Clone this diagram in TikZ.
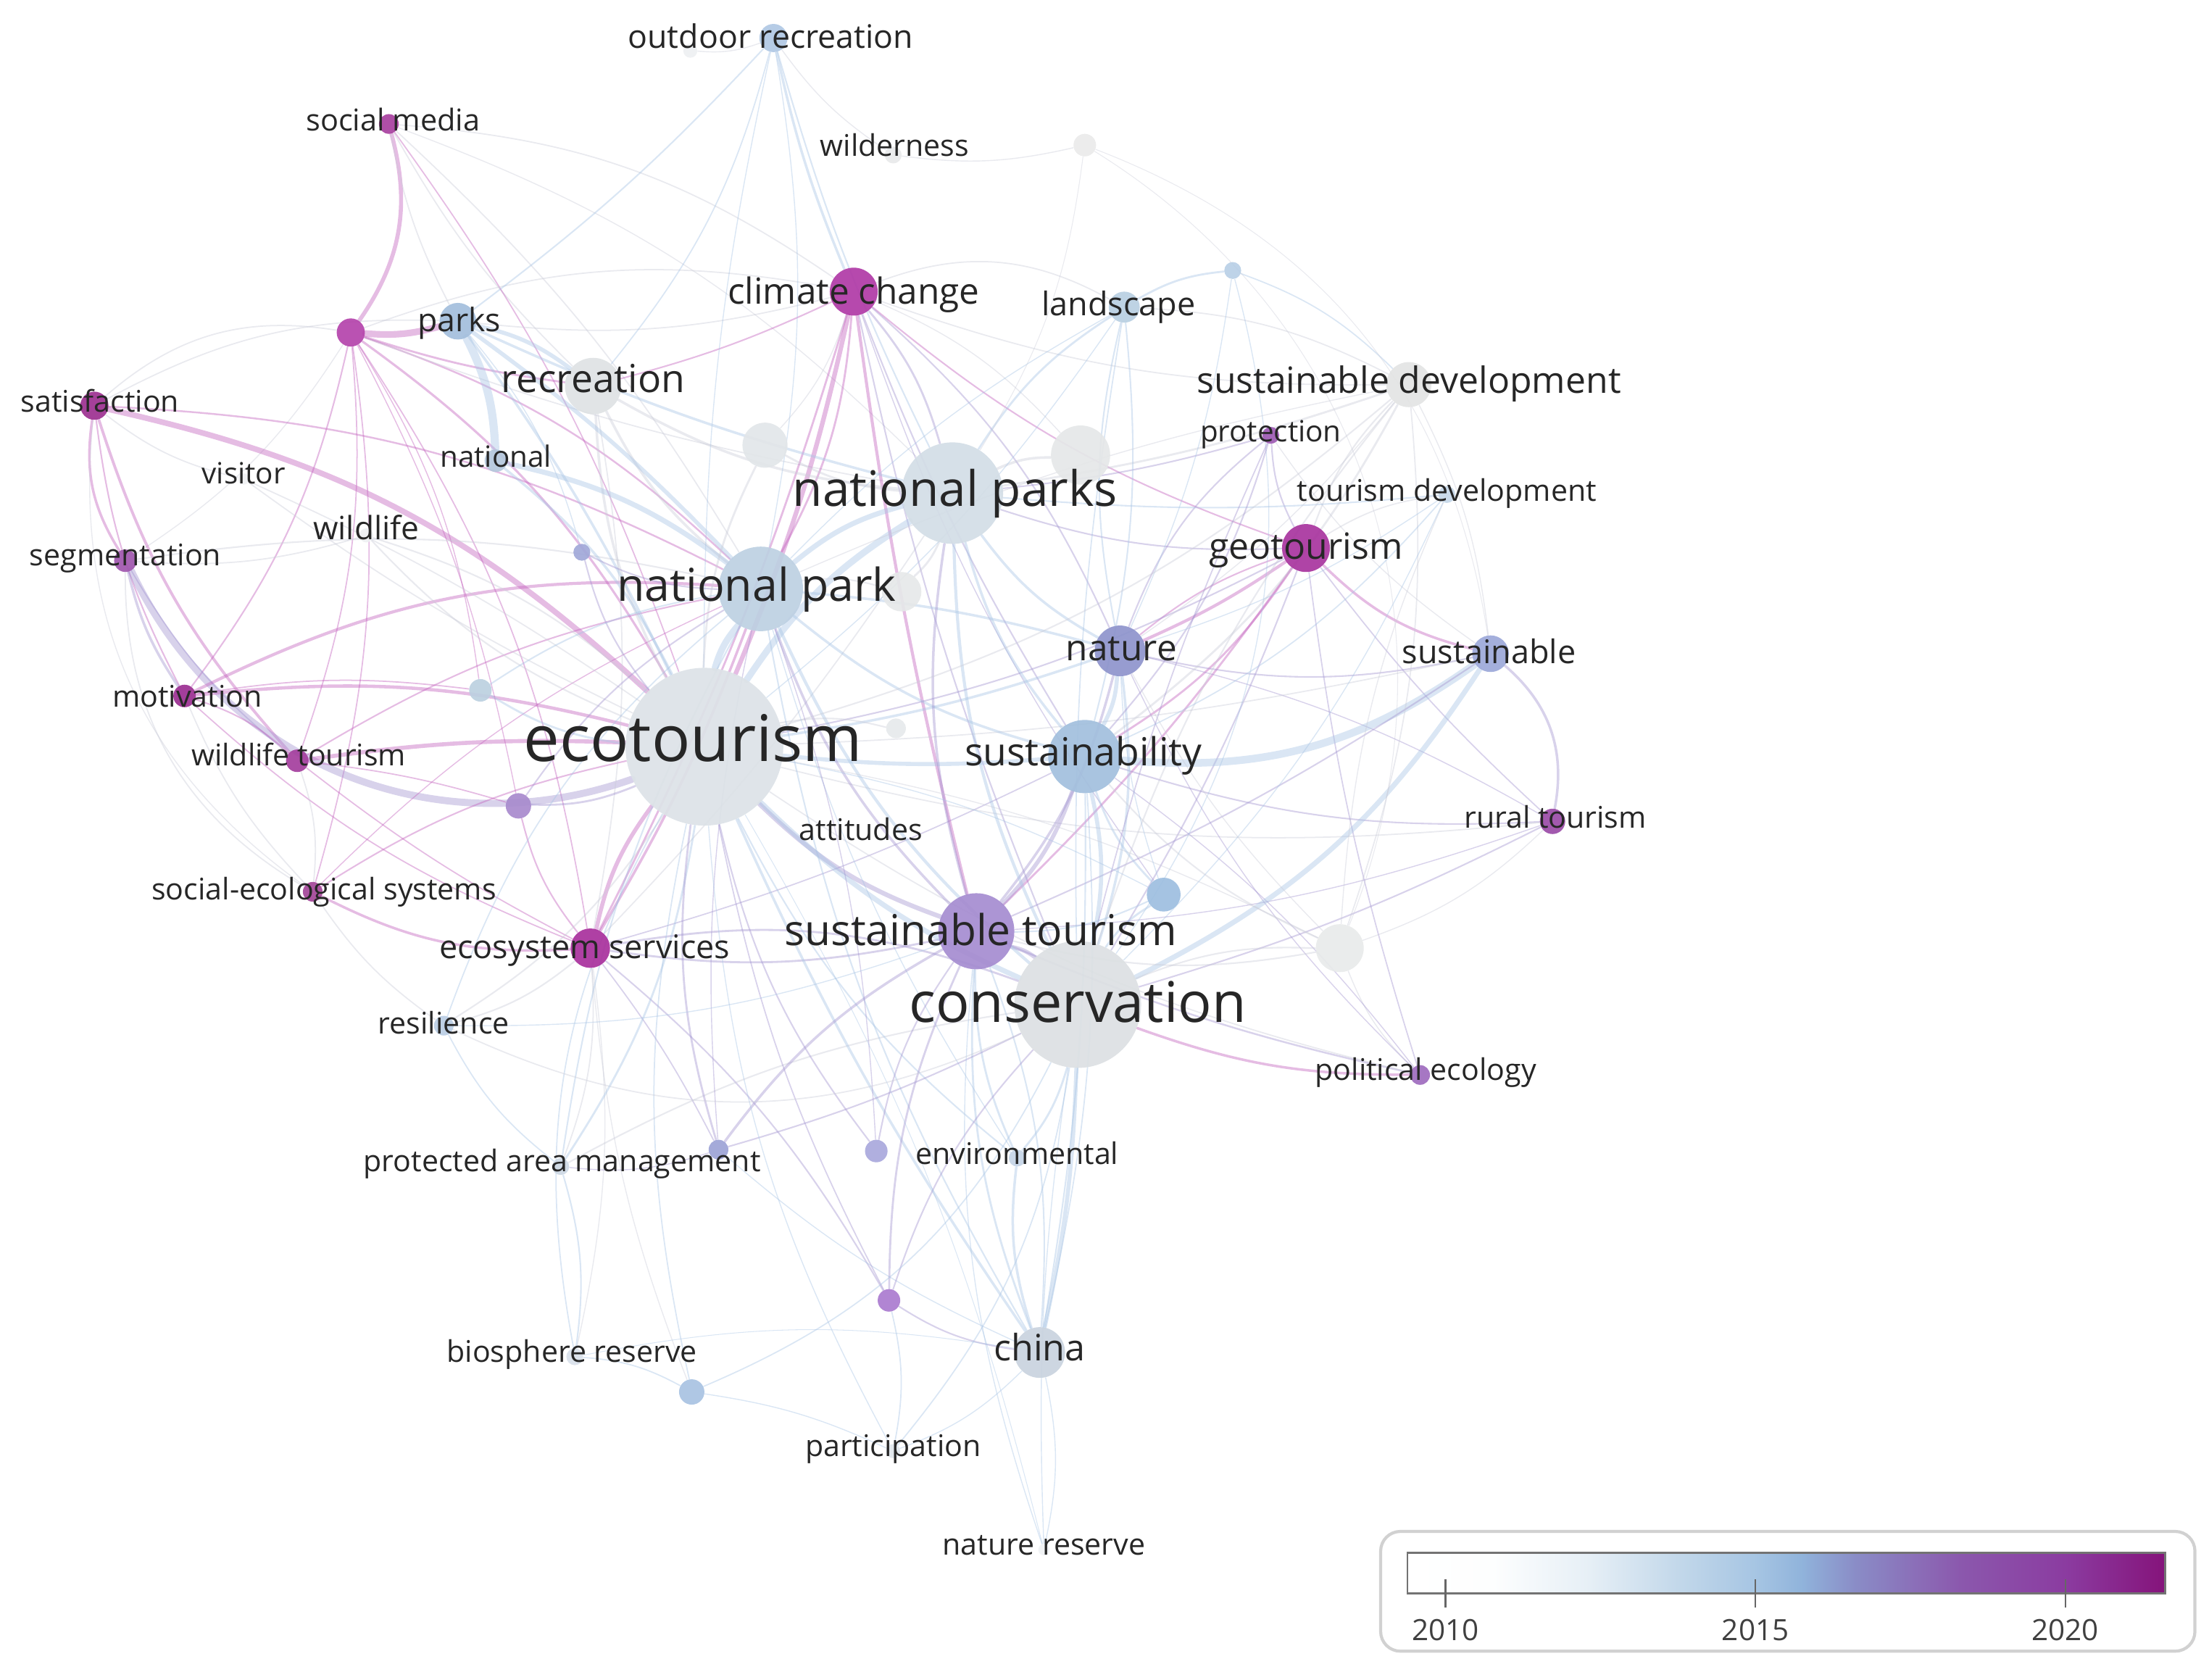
\documentclass[tikz,border=0pt]{standalone}
\usepackage{fontspec}
\setmainfont{Open Sans}
\pgfdeclarelayer{edges}
\pgfsetlayers{edges,main}
\newlength\pxu
\setlength\pxu{0.0194388cm}
% node colours
\definecolor{txt}{HTML}{262626}
\definecolor{ep}{HTML}{C25FBC}
\definecolor{el}{HTML}{A294D0}
\definecolor{eb}{HTML}{A8C4E4}
\definecolor{eg}{HTML}{CACCD8}
\definecolor{l0}{HTML}{FFFFFF}
\definecolor{l1}{HTML}{FDFEFE}
\definecolor{l2}{HTML}{E6EFF6}
\definecolor{l3}{HTML}{C6DAEB}
\definecolor{l4}{HTML}{A6C5E3}
\definecolor{l5}{HTML}{90B3DB}
\definecolor{l6}{HTML}{8A8DC7}
\definecolor{l7}{HTML}{8B58AD}
\definecolor{l8}{HTML}{8B3BA0}
\definecolor{l9}{HTML}{85137A}
\tikzset{
  dot/.style 2 args={circle, inner sep=0pt, minimum size={2*#1*\pxu}, /utils/exec={\definecolor{dotc}{HTML}{#2}}, fill=dotc, draw=none, fill opacity=0.92},
  lab/.style={font=\fontsize{#1}{#1}\selectfont, inner sep=0pt, text height={0.535*#1pt}, text depth=0pt, text=txt},
  ed/.style={line width=#1pt, opacity=0.42, line cap=round},
}
\begin{document}
\begin{tikzpicture}[x=0.0194388cm, y=-0.0194388cm]
\useasboundingbox (0,0) rectangle (1568,1192);
% ---------- circles ----------
\node[dot={10}{B0C8E4}] (outr) at (549,27) {};
\node[dot={5}{EEF0F2}] (b0) at (490,36) {};
\node[dot={6}{E8E9EA}] (wil) at (634,110) {};
\node[dot={8}{EAEAEA}] (n2) at (770,103) {};
\node[dot={7}{A8409F}] (smed) at (276,88) {};
\node[dot={6}{B8CFE6}] (n3) at (875,192) {};
\node[dot={17}{B03AA6}] (cc) at (606,207) {};
\node[dot={11}{B9CFE2}] (land) at (798,218) {};
\node[dot={13}{A3BEDC}] (parks) at (325,228) {};
\node[dot={10}{B443AB}] (pm) at (249,236) {};
\node[dot={20}{DEE2E4}] (rec) at (421,274) {};
\node[dot={16}{E3E4E4}] (sd) at (1000,273) {};
\node[dot={10}{9C3090}] (sat) at (67,288) {};
\node[dot={6}{9D5AB3}] (prot) at (902,309) {};
\node[dot={8}{B4C8DC}] (natl) at (352,327) {};
\node[dot={16}{E2E6E9}] (g3) at (543,316) {};
\node[dot={21}{E5E7E8}] (g4) at (767,323) {};
\node[dot={36}{D3DDE6}] (nps) at (676,350) {};
\node[dot={6}{C5D7E8}] (td) at (1027,351) {};
\node[dot={4}{F0F1F3}] (vis) at (173,340) {};
\node[dot={5}{EEF0F2}] (wldf) at (260,380) {};
\node[dot={8}{A056AE}] (seg) at (89,398) {};
\node[dot={6}{A1A8D8}] (b1) at (413,392) {};
\node[dot={17}{A8349E}] (geo) at (927,389) {};
\node[dot={30}{BDD0E2}] (np) at (540,418) {};
\node[dot={14}{E6E8E9}] (g5) at (640,420) {};
\node[dot={18}{8E94CC}] (nat) at (795,462) {};
\node[dot={13}{9CA8D9}] (sbl) at (1058,464) {};
\node[dot={8}{BCD0E0}] (b2) at (341,490) {};
\node[dot={8}{9B2E91}] (mot) at (131,494) {};
\node[dot={56}{DCE2E7}] (eco) at (500,530) {};
\node[dot={7}{E6E9EB}] (g1) at (636,517) {};
\node[dot={26}{A2BFDD}] (sty) at (770,537) {};
\node[dot={8}{A43E9D}] (wt) at (211,540) {};
\node[dot={9}{A88ACD}] (b3) at (368,572) {};
\node[dot={9}{9A4BA7}] (rt) at (1102,583) {};
\node[dot={12}{9DBEE0}] (b4) at (826,635) {};
\node[dot={7}{A34598}] (ses) at (222,633) {};
\node[dot={14}{A8309C}] (es) at (419,673) {};
\node[dot={27}{A58CD0}] (st) at (693,661) {};
\node[dot={17}{E8EAEA}] (g2) at (951,673) {};
\node[dot={45}{DCE0E3}] (cons) at (765,713) {};
\node[dot={7}{BACDE4}] (res) at (315,728) {};
\node[dot={7}{9E6BBE}] (pe) at (1008,763) {};
\node[dot={6}{CDD8E4}] (pam) at (398,828) {};
\node[dot={7}{9CA3D6}] (n5) at (510,816) {};
\node[dot={8}{A9A8DC}] (n6) at (622,817) {};
\node[dot={6}{C4D4E6}] (env) at (722,822) {};
\node[dot={8}{AA7BCF}] (n7) at (631,923) {};
\node[dot={18}{C9D3DE}] (china) at (738,960) {};
\node[dot={6}{D9E1EA}] (bio) at (408,963) {};
\node[dot={9}{A8C2E2}] (n8) at (491,988) {};
\node[dot={5}{E0E6EC}] (part) at (634,1030) {};
\node[dot={4}{F0F2F4}] (nr) at (741,1100) {};
% ---------- edges ----------
\begin{pgfonlayer}{edges}
\foreach \a/\b/\c/\d/\w in {
smed/pm/ep/25/1.6, smed/parks/eg/-8/0.5, smed/rec/eg/-8/0.5, smed/cc/eg/15/0.5, smed/eco/ep/8/0.5, smed/np/eg/8/0.5, smed/nps/eg/12/0.4,
pm/parks/ep/-10/2.6, pm/sat/eg/-25/0.5, pm/mot/ep/0/0.6, pm/wt/ep/0/0.5, pm/eco/ep/0/0.9, pm/np/ep/0/0.7, pm/nps/eg/-5/0.5,
pm/es/ep/0/0.5, pm/seg/eg/0/0.4, pm/ses/ep/0/0.5, pm/cc/eg/15/0.5, pm/rec/ep/-5/0.8, pm/b2/ep/0/0.4, pm/b3/ep/8/0.4,
sat/eco/ep/15/2.2, sat/seg/ep/-20/1.0, sat/mot/ep/-10/0.6, sat/wt/ep/-12/1.1, sat/np/ep/12/0.7, sat/parks/eg/15/0.5, sat/ses/eg/-30/0.4,
seg/mot/el/-10/1.0, seg/eco/el/-42/2.8, seg/ses/eg/-30/0.5, seg/np/eg/10/0.6, seg/wt/el/-10/0.5,
mot/eco/ep/10/1.3, mot/np/ep/15/1.2, mot/wt/ep/0/0.6, mot/es/ep/-10/0.5, mot/ses/eg/-10/0.5, mot/b2/ep/8/0.5,
wt/eco/ep/5/1.6, wt/np/ep/10/0.6, wt/es/ep/-5/0.5, wt/ses/eg/0/0.5, wt/b3/ep/5/0.5,
ses/es/ep/-15/1.0, ses/eco/ep/10/0.6, ses/res/eg/-10/0.5, ses/np/ep/10/0.4,
es/eco/ep/0/1.6, es/np/ep/-5/1.0, es/cc/ep/-5/0.8, es/st/el/-10/0.8, es/cons/el/15/0.8, es/res/eg/0/0.6, es/pam/eg/0/0.5,
es/b3/ep/0/0.6, es/sty/el/-5/0.5, es/nps/eg/-5/0.5, es/rec/eg/-10/0.5, es/n7/el/10/0.6, es/n5/el/5/0.5, es/bio/eg/10/0.4, es/n8/eg/-8/0.4,
cc/eco/ep/5/1.8, cc/st/ep/-3/1.2, cc/np/ep/0/0.8, cc/nps/el/0/0.8, cc/outr/eb/5/1.0, cc/parks/eg/10/0.5, cc/geo/ep/-10/0.6,
cc/sd/eg/-10/0.5, cc/nat/el/0/0.6, cc/cons/el/-5/0.6, cc/sty/el/-5/0.6, cc/land/eg/25/0.5, cc/rec/ep/5/0.6, cc/g3/eg/0/0.4, cc/g4/eg/0/0.4, cc/b4/el/-8/0.4,
geo/nat/ep/5/1.2, geo/nat/ep/-10/0.6, geo/sty/ep/0/0.8, geo/st/ep/5/0.8, geo/cons/el/5/0.6, geo/sbl/ep/-15/1.0, geo/prot/el/0/0.6,
geo/td/eg/0/0.5, geo/nps/el/10/0.6, geo/eco/el/8/0.6, geo/rt/el/-5/0.5, geo/sd/eg/0/0.6, geo/pe/el/-5/0.5,
rt/sbl/el/-30/1.0, rt/sty/el/10/0.6, rt/cons/el/5/0.6, rt/g2/eg/0/0.4, rt/eco/eg/10/0.5, rt/nat/el/-8/0.4, rt/st/el/8/0.4,
pe/cons/ep/10/1.0, pe/st/el/5/0.7, pe/g2/eg/0/0.4, pe/eco/eg/10/0.5, pe/sty/el/-8/0.4, pe/nat/el/10/0.4,
sbl/sty/eb/20/3.0, sbl/cons/eb/15/2.0, sbl/nat/el/0/0.6, sbl/st/el/5/0.6, sbl/eco/eg/5/0.5, sbl/sd/eg/-10/0.4, sbl/prot/eg/10/0.4,
nat/nps/eb/0/1.0, nat/sty/eb/0/1.6, nat/eco/eb/5/1.0, nat/np/eb/-5/1.0, nat/cons/eb/0/1.0, nat/st/el/0/1.0, nat/land/eb/0/0.6, nat/prot/el/15/0.6,
sty/eco/eb/5/1.6, sty/np/eb/0/1.0, sty/nps/eb/0/1.0, sty/cons/eb/0/1.6, sty/st/el/0/1.6, sty/china/eb/5/0.6,
st/eco/el/0/1.8, st/cons/el/0/1.6, st/np/el/0/1.0, st/nps/el/0/1.0, st/china/eb/0/0.6,
cons/eco/eb/10/2.0, cons/np/eb/0/1.2, cons/nps/eb/0/1.2, cons/china/eb/5/1.6, cons/b4/eb/0/0.8, cons/g2/eg/0/0.6, cons/env/eb/0/0.8, cons/pam/eg/-10/0.6,
eco/np/eb/0/2.6, eco/nps/eb/0/2.6, np/nps/eb/0/2.0, eco/rec/eg/0/1.0, np/rec/eg/0/1.0, nps/rec/eg/0/1.0,
parks/natl/eb/0/3.2, parks/rec/eb/0/1.6, parks/np/eb/5/1.6, parks/eco/eb/5/1.0, parks/nps/eb/-5/1.0, parks/outr/eb/-5/0.6, parks/b1/eb/0/0.4,
outr/nps/eb/-5/0.6, outr/rec/eb/0/0.5, outr/b0/eg/0/0.4, outr/np/eb/10/0.4, outr/eco/eb/-6/0.4, natl/np/eb/0/2.0, natl/eco/eb/0/1.0,
eco/china/eb/-5/1.0, eco/res/eg/0/0.6, eco/pam/eb/0/0.8, eco/b2/eb/0/0.8, eco/b3/el/0/0.8, eco/g1/eg/0/0.6, eco/b1/el/0/0.6,
eco/wldf/eg/0/0.6, eco/vis/eg/-5/0.5, np/b1/el/0/0.6, eco/g3/eg/0/0.8, nps/g4/eg/0/1.0, nps/g3/eg/0/0.8, nps/g5/eg/0/0.8, np/g5/eg/0/0.6,
nps/land/eb/0/0.8, nps/sd/eg/-5/0.8, nps/td/eb/-5/0.6, nps/prot/el/-5/0.6, land/eco/eb/8/0.4, land/np/eb/-8/0.4,
land/n3/eb/0/0.8, land/sd/eg/0/0.5, land/sty/eb/10/0.6, land/cons/eb/-5/0.5, n3/sd/eb/0/0.5, n3/cons/eb/25/0.4, n3/nat/eb/8/0.4,
wil/n2/eg/-10/0.4, wil/outr/eg/10/0.4, n2/g2/eg/40/0.3, n2/nps/eg/0/0.3, n2/sbl/eg/30/0.3,
sd/sty/eg/0/0.8, sd/cons/eg/-10/0.6, sd/eco/eg/0/0.6, sd/g2/eg/0/0.5, sd/nat/eg/8/0.4, sd/np/eg/-6/0.4, prot/sty/el/0/0.6, prot/cons/el/-5/0.5,
td/sty/eb/0/0.5, td/g2/eg/-10/0.4, td/nat/eb/8/0.4, td/cons/eb/10/0.4, g2/sty/eg/0/0.6, g2/st/eg/0/0.6, g2/nat/eg/8/0.4, g2/eco/eg/-8/0.4,
b4/sty/eb/0/0.8, b4/st/eb/0/0.6, b4/eco/eb/-8/0.4, b4/nat/eb/8/0.4,
china/env/eb/0/1.0, china/st/eb/0/0.8, china/np/eb/10/0.6, china/n7/el/0/0.6, china/nr/eb/0/0.4, china/part/eb/0/0.4, china/sty/eb/-8/0.5, china/n5/eb/8/0.4, china/bio/eb/-10/0.3,
env/st/eb/0/0.8, env/eco/eb/0/0.6, env/np/eb/8/0.4, n5/st/el/0/1.0, n5/eco/el/0/0.8, n5/cons/el/-5/0.6, n5/np/el/8/0.4, n5/pam/el/0/0.4,
n6/st/el/0/0.6, n6/eco/el/0/0.6, n6/np/el/-8/0.4, n7/st/el/0/0.8, n7/cons/el/0/0.6, n7/part/eb/0/0.5, n7/eco/el/8/0.5,
pam/res/eb/0/0.5, pam/bio/eb/0/0.6, pam/np/eb/10/0.6,
bio/n8/eb/0/0.5, bio/eco/eb/20/0.5, n8/cons/eb/-20/0.5, n8/eco/eb/0/0.5, part/cons/eb/-15/0.5, part/eco/eb/0/0.4, part/n8/eb/-8/0.4,
nr/cons/eb/5/0.4, nr/st/eb/0/0.4, nr/eco/eb/-8/0.3, res/np/eb/15/0.5, res/cons/eg/-25/0.5, res/st/eb/-10/0.4,
vis/sat/eg/0/0.5, vis/eco/eg/-5/0.5, wldf/seg/eg/10/0.5, wldf/eco/eg/0/0.6, b2/np/eb/0/0.6, b3/np/el/0/0.6}
{ \pgfmathsetmacro\bb{ifthenelse(\d==0,12,\d)}
  \draw[ed=\w, draw=\c] (\a) to[bend left=\bb] (\b); }
\end{pgfonlayer}
% ---------- labels ----------
\node[lab=12.7] (Loutr) at (547,28) {outdoor recreation};
\node[lab=11.7] (Lwil) at (635,105) {wilderness};
\node[lab=11.8] (Lsmed) at (279,87) {social media};
\node[lab=14.1] (Lcc) at (606,209) {climate change};
\node[lab=12.8] (Lland) at (794,218) {landscape};
\node[lab=12.7] (Lparks) at (326,229) {parks};
\node[lab=15.2] (Lrec) at (421,271) {recreation};
\node[lab=14.2] (Lsd) at (1000,272) {sustainable development};
\node[lab=11.7] (Lsat) at (71,287) {satisfaction};
\node[lab=11.5] (Lprot) at (902,308) {protection};
\node[lab=11.5] (Lnatl) at (352,326) {national};
\node[lab=11.5] (Lvis) at (173,338) {visitor};
\node[lab=19.2] (Lnps) at (678,350) {national parks};
\node[lab=11.7] (Ltd) at (1027,350) {tourism development};
\node[lab=12.6] (Lwldf) at (260,377) {wildlife};
\node[lab=11.7] (Lseg) at (89,396) {segmentation};
\node[lab=14.2] (Lgeo) at (927,390) {geotourism};
\node[lab=17.8] (Lnp) at (537,418) {national park};
\node[lab=14.1] (Lnat) at (796,462) {nature};
\node[lab=12.8] (Lsbl) at (1057,465) {sustainable};
\node[lab=11.7] (Lmot) at (133,496) {motivation};
\node[lab=25.2] (Leco) at (492,528) {ecotourism};
\node[lab=15.2] (Lsty) at (769,536) {sustainability};
\node[lab=11.7] (Lwt) at (212,538) {wildlife tourism};
\node[lab=11.7] (Latt) at (611,591) {attitudes};
\node[lab=11.7] (Lrt) at (1104,582) {rural tourism};
\node[lab=11.7] (Lses) at (230,633) {social-ecological systems};
\node[lab=16.7] (Lst) at (696,663) {sustainable tourism};
\node[lab=12.8] (Les) at (415,674) {ecosystem services};
\node[lab=22] (Lcons) at (765,715) {conservation};
\node[lab=11.7] (Lres) at (315,728) {resilience};
\node[lab=11.7] (Lpe) at (1012,761) {political ecology};
\node[lab=11.7] (Lpam) at (399,826) {protected area management};
\node[lab=11.7] (Lenv) at (722,821) {environmental};
\node[lab=14.3] (Lchina) at (738,959) {china};
\node[lab=11.7] (Lbio) at (406,961) {biosphere reserve};
\node[lab=11.7] (Lpart) at (634,1028) {participation};
\node[lab=11.7] (Lnr) at (741,1098) {nature reserve};
% ---------- legend ----------
\draw[draw=black!18, line width=1.2pt, rounded corners=14\pxu, fill=white] (980,1087) rectangle (1558,1172);
\foreach \xa/\xb/\ca/\cb in {999/1060/l0/l1, 1060/1128/l1/l2, 1128/1185/l2/l3, 1185/1246/l3/l4, 1246/1279/l4/l5, 1279/1316/l5/l6, 1316/1391/l6/l7, 1391/1467/l7/l8, 1467/1537/l8/l9}
{ \shade[left color=\ca, right color=\cb] (\xa,1102) rectangle (\xb+0.5,1131); }
\draw[draw=black!55, line width=0.8pt] (999,1102) rectangle (1537,1131);
\foreach \x/\yr in {1026/2010, 1246/2015, 1466/2020}
{ \draw[black!60, line width=0.6pt] (\x,1121) -- (\x,1141);
  \node[font=\fontsize{11.5}{11.5}\selectfont, text=black!75, inner sep=0pt, text height=8.4pt, text depth=0pt] (yr\yr) at (\x,1157) {\yr}; }
\end{tikzpicture}
\end{document}
